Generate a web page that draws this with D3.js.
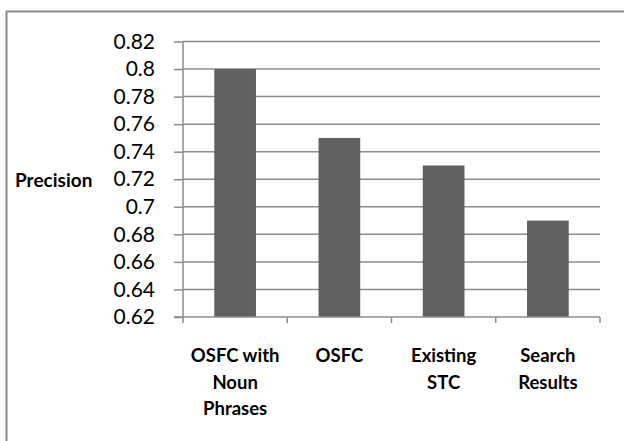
<!DOCTYPE html>
<html>
<head>
<meta charset="utf-8">
<script src="https://cdn.jsdelivr.net/npm/d3@7"></script>
<style>
  html, body { margin: 0; padding: 0; background: #fff; }
  svg { display: block; }
</style>
</head>
<body>
<svg id="chart" width="624" height="441"></svg>
<script>
// Precision per method
const categories = [
  ["OSFC with", "Noun", "Phrases"],
  ["OSFC"],
  ["Existing", "STC"],
  ["Search", "Results"]
];
const precision = [0.8, 0.75, 0.73, 0.69];
const yTicks = [0.62, 0.64, 0.66, 0.68, 0.7, 0.72, 0.74, 0.76, 0.78, 0.8, 0.82];
const yTitle = "Precision";

const svg = d3.select("#chart");
const W = 624, H = 441;
const plot = { left: 183, right: 600, top: 41.5, bottom: 317 };
const fontFamily = "Lato, 'Open Sans', sans-serif";
const gridColor = "#8c8c8c";

// Chart frame (only the top and left edges fall inside the canvas)
svg.append("path")
  .attr("d", `M6.5,${H} V11.5 H${W}`)
  .attr("fill", "none")
  .attr("stroke", "#8a8a8a")
  .attr("stroke-width", 2);

const keys = categories.map((c, i) => i);
const x = d3.scaleBand()
  .domain(keys)
  .range([plot.left, plot.right])
  .paddingInner(0.6)
  .paddingOuter(0.3);

const y = d3.scaleLinear()
  .domain([0.62, 0.82])
  .range([plot.bottom, plot.top]);

// Horizontal gridlines
svg.append("g")
  .selectAll("line")
  .data(yTicks.slice(1))
  .join("line")
  .attr("x1", plot.left)
  .attr("x2", plot.right)
  .attr("y1", d => y(d))
  .attr("y2", d => y(d))
  .attr("stroke", gridColor)
  .attr("stroke-width", 1.5);

// Bars
svg.append("g")
  .selectAll("rect")
  .data(precision)
  .join("rect")
  .attr("x", (d, i) => x(i))
  .attr("width", x.bandwidth())
  .attr("y", d => y(d))
  .attr("height", d => y(0.62) - y(d))
  .attr("fill", "#616161");

// Y axis
const yAxis = d3.axisLeft(y)
  .tickValues(yTicks)
  .tickSize(9)
  .tickPadding(19)
  .tickFormat(d => String(+d.toFixed(2)));

const gy = svg.append("g")
  .attr("transform", `translate(${plot.left},0)`)
  .call(yAxis);
gy.select(".domain").attr("stroke", gridColor).attr("stroke-width", 1.5)
  .attr("d", `M-9,${plot.bottom}H0V${plot.top}`);
gy.selectAll(".tick line").attr("stroke", gridColor).attr("stroke-width", 1.5);
gy.selectAll(".tick text")
  .attr("fill", "#000")
  .style("font-family", fontFamily)
  .style("font-size", "21px");

// X axis: ticks at category boundaries
const step = (plot.right - plot.left) / categories.length;
const gx = svg.append("g");
gx.append("line")
  .attr("x1", plot.left).attr("x2", plot.right)
  .attr("y1", plot.bottom).attr("y2", plot.bottom)
  .attr("stroke", gridColor).attr("stroke-width", 1.5);
gx.selectAll("line.tick")
  .data(d3.range(categories.length + 1))
  .join("line")
  .attr("class", "tick")
  .attr("x1", i => plot.left + i * step)
  .attr("x2", i => plot.left + i * step)
  .attr("y1", plot.bottom)
  .attr("y2", plot.bottom + 6)
  .attr("stroke", gridColor).attr("stroke-width", 1.5);

// Category labels
const labels = svg.append("g")
  .style("font-family", fontFamily)
  .style("font-weight", "bold")
  .style("font-size", "18.5px")
  .attr("text-anchor", "middle");
categories.forEach((lines, i) => {
  const cx = x(i) + x.bandwidth() / 2;
  const t = labels.append("text").attr("x", cx).attr("y", 362);
  lines.forEach((ln, j) => {
    t.append("tspan")
      .attr("x", cx)
      .attr("y", 362 + j * 26.7)
      .text(ln);
  });
});

// Y axis title
svg.append("text")
  .attr("x", 15)
  .attr("y", 186.5)
  .style("font-family", fontFamily)
  .style("font-weight", "bold")
  .style("font-size", "19px")
  .text(yTitle);
</script>
</body>
</html>
